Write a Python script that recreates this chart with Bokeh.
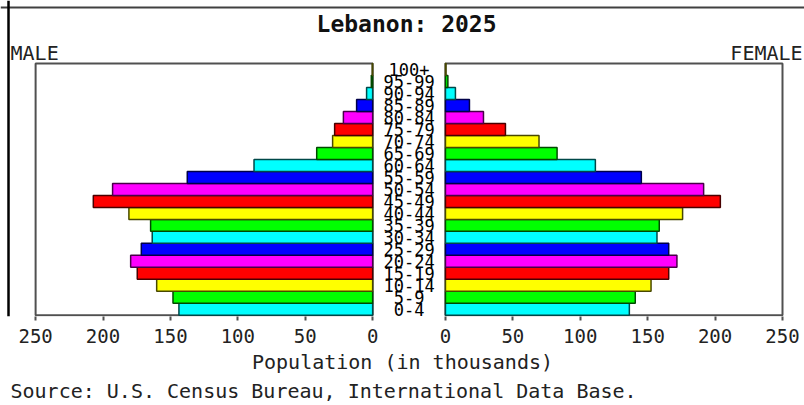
from bokeh.plotting import figure
from bokeh.models import ColumnDataSource, Range1d, FixedTicker, Label, Title, Span
from bokeh.embed import file_html
from bokeh.resources import INLINE

# ---------------- data ----------------
ages = ["0-4", "5-9", "10-14", "15-19", "20-24", "25-29", "30-34", "35-39",
        "40-44", "45-49", "50-54", "55-59", "60-64", "65-69", "70-74", "75-79",
        "80-84", "85-89", "90-94", "95-99", "100+"]
male = [143.7, 148.1, 160.2, 174.6, 179.5, 171.6, 163.5, 164.7, 180.8, 207.2,
        192.9, 137.5, 88.0, 41.5, 29.7, 28.2, 21.7, 11.9, 4.5, 1.0, 0.3]
female = [136.4, 140.8, 152.5, 165.6, 171.7, 165.6, 156.9, 158.6, 175.9, 203.9,
          191.5, 145.3, 111.2, 82.8, 69.4, 44.5, 28.2, 17.8, 7.4, 1.8, 0.4]
tick_values = [0, 50, 100, 150, 200, 250]
palette = ["#00FFFF", "#00FF00", "#FFFF00", "#FF0000", "#FF00FF", "#0000FF"]
edge_palette = ["#004848", "#004800", "#484800", "#480000", "#480048", "#000048"]

title_text = "Lebanon: 2025"
male_text = "MALE"
female_text = "FEMALE"
xlabel_text = "Population (in thousands)"
source_text = "Source: U.S. Census Bureau, International Data Base."

# ---------------- geometry ----------------
G = 27          # half gap (population units) between the two halves
AXMAX = 250
FONT = "DejaVu Sans Mono"

n = len(ages)
idx = list(range(n))
fills = [palette[i % 6] for i in idx]
edges = [edge_palette[i % 6] for i in idx]

src = ColumnDataSource(dict(
    y=idx,
    ml=[-(G + v) for v in male], mr=[-G] * n,
    fl=[G] * n, fr=[G + v for v in female],
    fill=fills, edge=edges, age=ages,
))

p = figure(width=804, height=405, output_backend="svg", toolbar_location=None,
           x_range=Range1d(-303.04, 293.32), y_range=Range1d(-0.6, 25.755),
           y_axis_location=None, x_axis_location="below")
p.min_border_left = 0
p.min_border_right = 0
p.min_border_top = 0
p.min_border_bottom = 89
p.outline_line_color = None
p.xgrid.visible = False
p.ygrid.visible = False
p.background_fill_color = "white"
p.border_fill_color = "white"

# outer picture border (top and left)
p.add_layout(Span(location=25.17, dimension="width", line_color="#404040", line_width=2))
p.add_layout(Span(location=-297.1, dimension="height", line_color="#000000", line_width=2.5))

# plot boxes
p.quad(left=[-(G + AXMAX), G], right=[-G, G + AXMAX], bottom=[-0.5, -0.5],
       top=[n - 0.5, n - 0.5], fill_color=None, line_color="#505050", line_width=2)

# bars
p.hbar(y="y", height=1.0, left="ml", right="mr", source=src,
       fill_color="fill", line_color="edge", line_width=1.5)
p.hbar(y="y", height=1.0, left="fl", right="fr", source=src,
       fill_color="fill", line_color="edge", line_width=1.5)

# age labels in the gap
p.text(x=0, y="y", text="age", source=src, text_align="center", text_baseline="middle",
       text_font={"value": FONT}, text_font_size="17px", text_color="#000000")

# axis
ticks = [-(G + t) for t in tick_values] + [G + t for t in tick_values]
overrides = {}
for t in tick_values:
    overrides[-(G + t)] = str(t)
    overrides[G + t] = str(t)
ax = p.xaxis[0]
ax.ticker = FixedTicker(ticks=ticks)
ax.major_label_overrides = overrides
ax.axis_line_color = None
ax.major_tick_line_color = "#505050"
ax.major_tick_line_width = 2
ax.major_tick_in = 0
ax.major_tick_out = 4
ax.minor_tick_line_color = None
ax.major_label_text_font = FONT
ax.major_label_text_font_size = "19px"
ax.major_label_text_color = "#222222"
ax.major_label_standoff = 8
ax.axis_label = xlabel_text
ax.axis_label_text_font = FONT
ax.axis_label_text_font_size = "20px"
ax.axis_label_text_font_style = "normal"
ax.axis_label_text_color = "#222222"
ax.axis_label_standoff = 4

# source note below the axis
p.add_layout(Title(text=source_text, align="left", offset=10, text_font=FONT,
                   text_font_size="20px", text_font_style="normal",
                   text_color="#222222", standoff=0), "below")

# texts in the top band
p.add_layout(Label(x=-1.85, y=23.76, text=title_text, text_align="center",
                   text_baseline="alphabetic", text_font=FONT, text_font_size="23px",
                   text_font_style="bold", text_color="#111111"))
p.add_layout(Label(x=-295.6, y=21.34, text=male_text, text_align="left",
                   text_baseline="alphabetic", text_font=FONT, text_font_size="20px",
                   text_color="#222222"))
p.add_layout(Label(x=291.9, y=21.34, text=female_text, text_align="right",
                   text_baseline="alphabetic", text_font=FONT, text_font_size="20px",
                   text_color="#222222"))

open("out.html", "w").write(file_html(p, INLINE))
